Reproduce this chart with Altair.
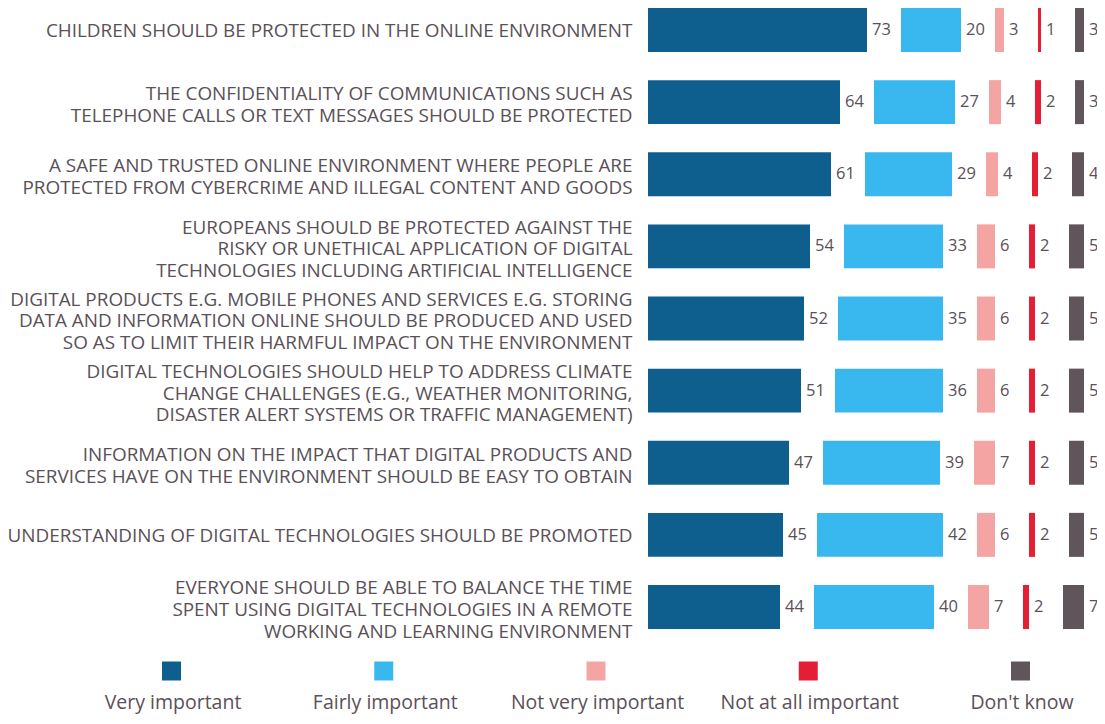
import altair as alt
import pandas as pd

categories = [
    "CHILDREN SHOULD BE PROTECTED IN THE ONLINE ENVIRONMENT",
    "THE CONFIDENTIALITY OF COMMUNICATIONS SUCH AS|TELEPHONE CALLS OR TEXT MESSAGES SHOULD BE PROTECTED",
    "A SAFE AND TRUSTED ONLINE ENVIRONMENT WHERE PEOPLE ARE|PROTECTED FROM CYBERCRIME AND ILLEGAL CONTENT AND GOODS",
    "EUROPEANS SHOULD BE PROTECTED AGAINST THE|RISKY OR UNETHICAL APPLICATION OF DIGITAL|TECHNOLOGIES INCLUDING ARTIFICIAL INTELLIGENCE",
    "DIGITAL PRODUCTS E.G. MOBILE PHONES AND SERVICES E.G. STORING|DATA AND INFORMATION ONLINE SHOULD BE PRODUCED AND USED|SO AS TO LIMIT THEIR HARMFUL IMPACT ON THE ENVIRONMENT",
    "DIGITAL TECHNOLOGIES SHOULD HELP TO ADDRESS CLIMATE|CHANGE CHALLENGES (E.G., WEATHER MONITORING,|DISASTER ALERT SYSTEMS OR TRAFFIC MANAGEMENT)",
    "INFORMATION ON THE IMPACT THAT DIGITAL PRODUCTS AND|SERVICES HAVE ON THE ENVIRONMENT SHOULD BE EASY TO OBTAIN",
    "UNDERSTANDING OF DIGITAL TECHNOLOGIES SHOULD BE PROMOTED",
    "EVERYONE SHOULD BE ABLE TO BALANCE THE TIME|SPENT USING DIGITAL TECHNOLOGIES IN A REMOTE|WORKING AND LEARNING ENVIRONMENT",
]
series = ["Very important", "Fairly important", "Not very important", "Not at all important", "Don't know"]
very_important = [73, 64, 61, 54, 52, 51, 47, 45, 44]
fairly_important = [20, 27, 29, 33, 35, 36, 39, 42, 40]
not_very_important = [3, 4, 4, 6, 6, 6, 7, 6, 7]
not_at_all_important = [1, 2, 2, 2, 2, 2, 2, 2, 2]
dont_know = [3, 3, 4, 5, 5, 5, 5, 5, 7]
colors = ["#0e5f8e", "#38b8ef", "#f4a5a3", "#e31e35", "#5f555b"]

GAP = 34 / 3  # gap between segments, in value units (room for the label)
values = [very_important, fairly_important, not_very_important, not_at_all_important, dont_know]

rows = []
for i, cat in enumerate(categories):
    pos = 0.0
    for k, s in enumerate(series):
        v = values[k][i]
        rows.append({"category": cat, "series": s, "order": k, "value": v,
                     "start": pos, "end": pos + v})
        pos += v + GAP
df = pd.DataFrame(rows)

TEXT = "#5a5058"
FONT = "Open Sans"
PLOT_W, PLOT_H = 436, 621
PAD_L, PAD_B = 640, 87
LH = 21.7
color_scale = alt.Scale(domain=series, range=colors)
xscale = alt.Scale(domain=[0, 100 + 4 * GAP], nice=False, zero=False)
nlines = "length(split(datum.value, '|'))"
yenc = alt.Y("category:N", sort=categories,
             scale=alt.Scale(paddingInner=0.39, paddingOuter=0),
             axis=alt.Axis(title=None, domain=False, ticks=False, labelPadding=16,
                           labelLimit=800, labelFontSize=18.9, labelColor=TEXT,
                           labelFont=FONT, labelLineHeight=LH,
                           labelOffset={"expr": f"{nlines} > 1 ? -({nlines} - 1) * {LH / 2} + 3 : 1"},
                           labelExpr="split(datum.label, '|')"))

base = alt.Chart(df)
bars = base.mark_bar().encode(
    x=alt.X("start:Q", scale=xscale, axis=None),
    x2="end:Q",
    y=yenc,
    color=alt.Color("series:N", scale=color_scale, legend=None),
)
labels = base.mark_text(align="left", baseline="middle", dx=5, fontSize=16.5,
                        color=TEXT, font=FONT).encode(
    x=alt.X("end:Q", scale=xscale, axis=None),
    y=alt.Y("category:N", sort=categories),
    text="value:Q",
)

# legend row below the plot (spread across full width, under the labels too)
leg_df = pd.DataFrame({"idx": list(range(5)), "series": series})
STEP = 212.25
d0 = (8 + PAD_L - 171.5) / STEP
lx = alt.X("idx:Q", scale=alt.Scale(domain=[d0, d0 + PLOT_W / STEP], nice=False, zero=False),
           axis=None)
leg_sq = alt.Chart(leg_df).mark_square(size=361, opacity=1).encode(
    x=lx, y=alt.value(PLOT_H + 42),
    color=alt.Color("series:N", scale=color_scale, legend=None),
)
leg_tx = alt.Chart(leg_df).mark_text(fontSize=19.5, color=TEXT, font=FONT,
                                     baseline="alphabetic", align="center", dx=1.5).encode(
    x=lx, y=alt.value(PLOT_H + 80), text="series:N",
)

chart = (
    alt.layer(bars, labels, leg_sq, leg_tx)
    .resolve_scale(x="independent")
    .properties(width=PLOT_W, height=PLOT_H,
                autosize=alt.AutoSizeParams(type="none"),
                padding={"left": PAD_L, "top": 0, "right": 1089 - PAD_L - PLOT_W, "bottom": PAD_B})
    .configure_view(stroke=None)
)
chart.save("out.html", embed_options={"renderer": "svg", "actions": False})
